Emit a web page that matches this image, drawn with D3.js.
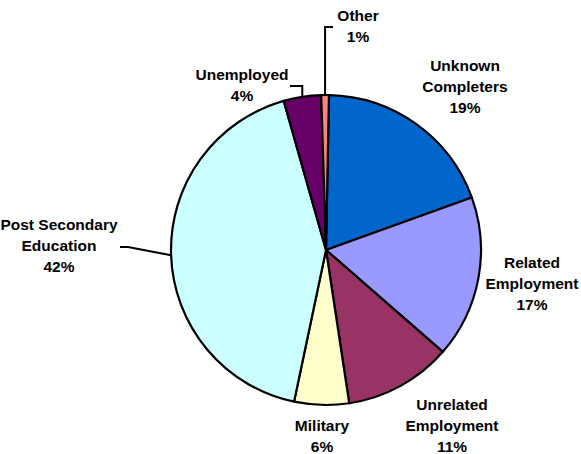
<!DOCTYPE html>
<html>
<head>
<meta charset="utf-8">
<script src="https://cdn.jsdelivr.net/npm/d3@7"></script>
<style>
  body { margin: 0; background: #fff; }
  text { font-family: Arial, "Liberation Sans", sans-serif; font-weight: bold; font-size: 15.5px; fill: #000; }
</style>
</head>
<body>
<svg id="chart" width="581" height="454"></svg>
<script>
// slice order, clockwise from 12 o'clock
const categories = ['Unknown Completers', 'Related Employment', 'Unrelated Employment', 'Military', 'Post Secondary Education', 'Unemployed', 'Other']
const values = [19.2, 16.9, 11.2, 5.7, 42.3, 3.9, 0.8]
const pctLabels = ['19%', '17%', '11%', '6%', '42%', '4%', '1%']
const colors = ['#0066CC', '#9999FF', '#993366', '#FFFFCC', '#CCFFFF', '#660066', '#FF8080']

// label placement (first baseline, centre x) and line breaks
const labelLines = [
  ['Unknown', 'Completers'],
  ['Related', 'Employment'],
  ['Unrelated', 'Employment'],
  ['Military'],
  ['Post Secondary', 'Education'],
  ['Unemployed'],
  ['Other']
]
const labelPos = [
  [465, 71], [532, 268], [452, 410], [322, 431], [59, 230], [242, 80], [358, 21]
]

const svg = d3.select('#chart')
const cx = 326, cy = 250, radius = 155
const lineH = 21
const start = 1.1 * Math.PI / 180

const pie = d3.pie().sort(null).value(d => d)
  .startAngle(start).endAngle(start + 2 * Math.PI)
const arcs = pie(values)
const arc = d3.arc().innerRadius(0).outerRadius(radius)

const g = svg.append('g').attr('transform', `translate(${cx},${cy})`)

g.selectAll('path')
  .data(arcs)
  .enter()
  .append('path')
  .attr('d', arc)
  .attr('fill', (d, i) => colors[i])
  .attr('stroke', '#000')
  .attr('stroke-width', 2.2)
  .attr('stroke-linejoin', 'round')

// point on the rim at the slice's middle angle
function rim(d) {
  const a = (d.startAngle + d.endAngle) / 2
  return [cx + radius * Math.sin(a), cy - radius * Math.cos(a)]
}

// leader lines for the small / far slices
const leaders = [
  { i: 6, path: p => [p, [p[0], 27], [333, 27]] },
  { i: 5, path: p => [p, [p[0], 86], [290, 86]] },
  { i: 4, path: p => [p, [128, 247], [120, 247]] }
]
leaders.forEach(l => {
  svg.append('path')
    .attr('d', d3.line()(l.path(rim(arcs[l.i]))))
    .attr('fill', 'none')
    .attr('stroke', '#000')
    .attr('stroke-width', 2)
})

categories.forEach((c, i) => {
  const [x, y] = labelPos[i]
  const t = svg.append('text').attr('text-anchor', 'middle')
  labelLines[i].concat([pctLabels[i]]).forEach((s, k) => {
    t.append('tspan').attr('x', x).attr('y', y + k * lineH).text(s)
  })
})
</script>
</body>
</html>
